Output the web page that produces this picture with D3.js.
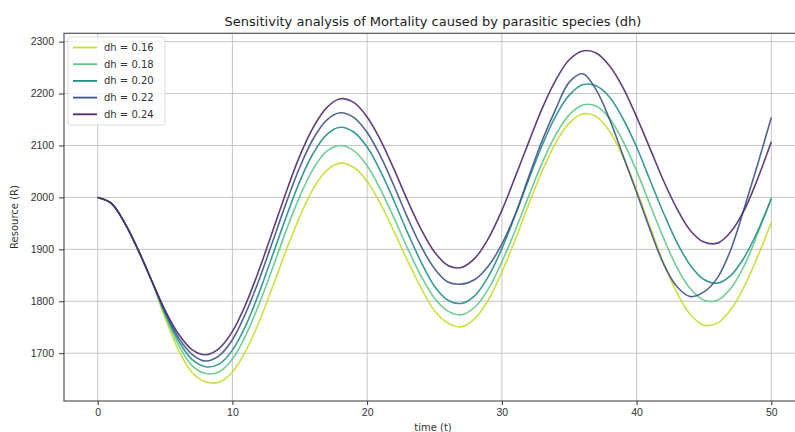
<!DOCTYPE html>
<html>
<head>
<meta charset="utf-8">
<script src="https://cdn.jsdelivr.net/npm/d3@7"></script>
<style>
  body { margin: 0; background: #fff; }
  svg { display: block; font-family: "DejaVu Sans", sans-serif; }
  .grid line { stroke: #b8b8b8; stroke-width: 0.8; }
  .axis text { font-size: 10.5px; fill: #333; }
  .axis line, .axis path { stroke: #333; }
</style>
</head>
<body>
<svg width="795" height="432"></svg>
<script>
// time steps and resource values
var times = d3.range(0, 51);

var r016 = [2000,1989,1951,1899,1840,1768,1706,1663,1645,1644,1664,1705,1762,1829,1899,1963,2017,2052,2066,2058,
            2031,1987,1934,1878,1826,1782,1758,1751,1767,1803,1856,1919,1987,2051,2105,2143,2161,2156,2127,2078,
            2014,1943,1874,1816,1774,1754,1758,1784,1829,1887,1952];
var r018 = [2000,1989,1951,1899,1840,1773,1716,1676,1661,1664,1689,1735,1796,1865,1937,2002,2055,2089,2100,2090,
            2061,2015,1960,1902,1849,1806,1781,1774,1789,1824,1876,1937,2003,2067,2121,2159,2178,2176,2152,2108,
            2051,1986,1922,1865,1824,1802,1802,1825,1869,1931,1998];
var r020 = [2000,1989,1951,1899,1840,1777,1724,1688,1674,1679,1706,1754,1818,1890,1963,2031,2085,2121,2135,2126,
            2097,2050,1993,1932,1876,1829,1802,1796,1811,1848,1901,1966,2035,2101,2157,2197,2217,2215,2193,2151,
            2097,2033,1970,1913,1869,1842,1835,1850,1885,1936,1998];
var r022 = [2000,1989,1951,1899,1840,1780,1730,1698,1685,1695,1726,1778,1843,1916,1990,2058,2113,2149,2163,2154,
            2125,2079,2022,1961,1906,1863,1837,1833,1842,1868,1910,1968,2040,2110,2170,2222,2238,2207,2150,2080,
            2010,1938,1872,1828,1809,1818,1845,1900,1980,2065,2154];
var r024 = [2000,1989,1951,1899,1840,1783,1737,1707,1697,1709,1742,1795,1862,1936,2011,2080,2135,2173,2190,2183,
            2155,2110,2054,1994,1939,1895,1869,1865,1883,1921,1975,2040,2107,2172,2226,2265,2282,2278,2253,2211,
            2155,2094,2032,1978,1936,1914,1912,1934,1976,2037,2107];

var labels = ["dh = 0.16", "dh = 0.18", "dh = 0.20", "dh = 0.22", "dh = 0.24"];
var colors = ["#c9dd30", "#5ec98a", "#23908c", "#3e5489", "#51296f"];
var series = [r016, r018, r020, r022, r024];

var xTicks = [0, 10, 20, 30, 40, 50];
var yTicks = [1700, 1800, 1900, 2000, 2100, 2200, 2300];

var svg = d3.select("svg"),
    pLeft = 64, pRight = 805, pTop = 33.3, pBottom = 401;

var x = d3.scaleLinear().domain([-2.5, 52.5]).range([pLeft, pRight]);
var y = d3.scaleLinear().domain([1608, 2316]).range([pBottom, pTop]);

// grid
var grid = svg.append("g").attr("class", "grid");
grid.selectAll(".gx").data(xTicks).enter().append("line")
    .attr("x1", d => x(d)).attr("x2", d => x(d))
    .attr("y1", pTop).attr("y2", pBottom);
grid.selectAll(".gy").data(yTicks).enter().append("line")
    .attr("x1", pLeft).attr("x2", pRight)
    .attr("y1", d => y(d)).attr("y2", d => y(d));

// lines
var line = d3.line()
    .x((d, i) => x(times[i]))
    .y(d => y(d))
    .curve(d3.curveCatmullRom.alpha(0.5));

svg.append("g").selectAll("path").data(series).enter().append("path")
    .attr("d", line)
    .attr("fill", "none")
    .attr("stroke", (d, i) => colors[i])
    .attr("stroke-opacity", 0.9)
    .attr("stroke-width", 1.6);

// frame
svg.append("rect")
    .attr("x", pLeft).attr("y", pTop)
    .attr("width", pRight - pLeft).attr("height", pBottom - pTop)
    .attr("fill", "none").attr("stroke", "#555").attr("stroke-width", 1.2);

// axes
svg.append("g").attr("class", "axis")
    .attr("transform", "translate(0," + pBottom + ")")
    .call(d3.axisBottom(x).tickValues(xTicks).tickSize(4).tickPadding(4))
    .call(g => g.select(".domain").remove());
svg.append("g").attr("class", "axis")
    .attr("transform", "translate(" + pLeft + ",0)")
    .call(d3.axisLeft(y).tickValues(yTicks).tickSize(5).tickPadding(5).tickFormat(d3.format("d")))
    .call(g => g.select(".domain").remove());

// title and labels
svg.append("text")
    .attr("x", 433).attr("y", 26)
    .attr("text-anchor", "middle")
    .style("font-size", "13px").style("fill", "#222")
    .text("Sensitivity analysis of Mortality caused by parasitic species (dh)");

svg.append("text")
    .attr("transform", "translate(18,217) rotate(-90)")
    .attr("text-anchor", "middle")
    .style("font-size", "10px").style("fill", "#333")
    .text("Resource (R)");

svg.append("text")
    .attr("x", 433).attr("y", 431)
    .attr("text-anchor", "middle")
    .style("font-size", "10px").style("fill", "#333")
    .text("time (t)");

// legend
var legend = svg.append("g").attr("transform", "translate(68,37)");
legend.append("rect")
    .attr("width", 97).attr("height", 88).attr("rx", 3)
    .attr("fill", "#fff").attr("fill-opacity", 0.8)
    .attr("stroke", "#ddd");
var item = legend.selectAll(".item").data(labels).enter().append("g")
    .attr("transform", (d, i) => "translate(0," + (10.5 + i * 16.7) + ")");
item.append("line")
    .attr("x1", 5).attr("x2", 29)
    .attr("stroke", (d, i) => colors[i]).attr("stroke-width", 1.8);
item.append("text")
    .attr("x", 36).attr("dy", "0.35em")
    .style("font-size", "10px").style("fill", "#333")
    .text(d => d);
</script>
</body>
</html>
